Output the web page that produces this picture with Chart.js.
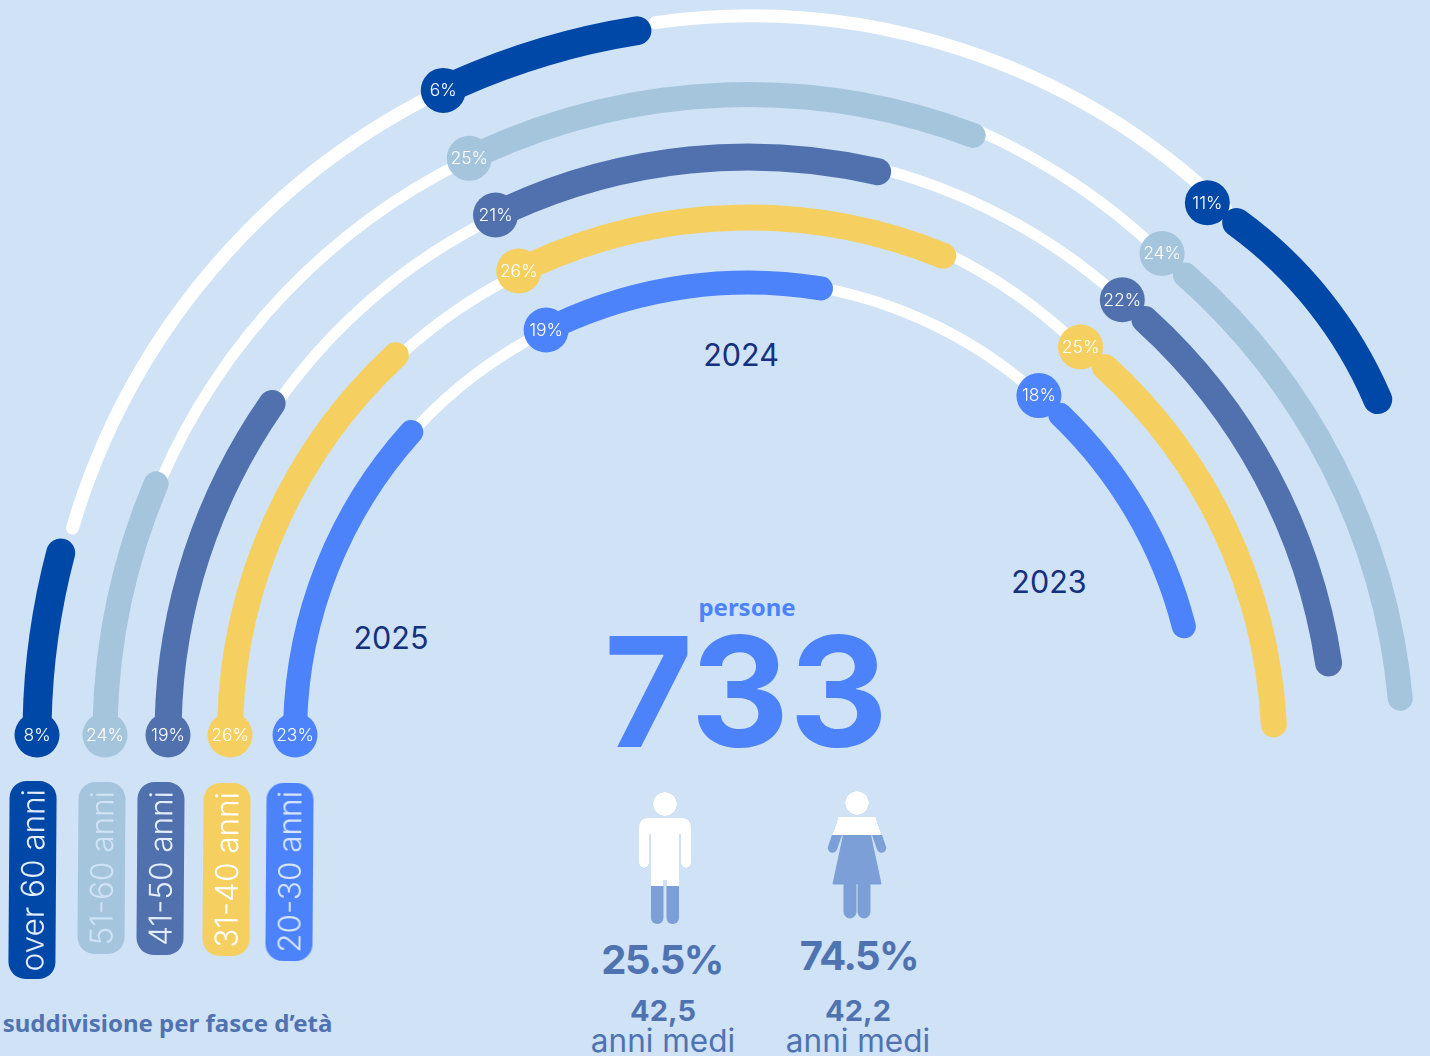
<!DOCTYPE html>
<html lang="it">

<head>
  <meta charset="UTF-8">
  <title>Suddivisione per fasce d'età</title>
  <script src="https://cdn.jsdelivr.net/npm/chart.js"></script>
  <style>
    html,
    body {
      margin: 0;
      padding: 0;
      background: #cfe2f6;
    }

    #page {
      position: relative;
      width: 1430px;
      height: 1056px;
      overflow: hidden;
      background: #cfe2f6;
      font-family: Inter, sans-serif;
    }

    #page canvas {
      position: absolute;
      left: 0;
      top: 0;
    }

    .t {
      position: absolute;
      transform: translate(-50%, -50%);
      line-height: 1;
      white-space: nowrap;
      color: #4f73b0;
    }

    .anno {
      font-size: 30.5px;
      color: #14307f;
    }

    .noto {
      font-family: "Noto Sans", sans-serif;
      font-weight: 700;
    }

    .pct {
      font-size: 40px;
      font-weight: 700;
      letter-spacing: -1.5px;
    }

    .eta {
      font-size: 29px;
      font-weight: 700;
    }

    .medi {
      font-size: 31.5px;
    }

    .pill {
      position: absolute;
      width: 47px;
      border-radius: 17px;
      display: flex;
      align-items: center;
      justify-content: center;
      box-sizing: border-box;
      transform: rotate(0.4deg);
    }

    .pill span {
      writing-mode: vertical-rl;
      transform: rotate(180deg);
      font-size: 31.5px;
      font-weight: 300;
      line-height: 1;
      white-space: nowrap;
    }

    #figure {
      position: absolute;
      left: 0;
      top: 0;
    }
  </style>
</head>

<body>
  <div id="page">
    <div class="t anno" style="left:391px;top:638px">2025</div>
    <div class="t anno" style="left:741px;top:355px">2024</div>
    <div class="t anno" style="left:1049px;top:582px">2023</div>

    <div class="t noto" style="left:747px;top:607px;font-size:24px;color:#4c82fa">persone</div>
    <div class="t" style="left:746px;top:691px;font-size:153px;font-weight:700;color:#4c82fa">733</div>

    <svg id="figure" width="1430" height="1056">
      <defs>
        <clipPath id="maschioTop"><rect x="620" y="780" width="90" height="106" /></clipPath>
        <clipPath id="femminaTop"><rect x="810" y="780" width="90" height="55" /></clipPath>
        <g id="maschio">
          <circle cx="665" cy="804" r="12" />
          <rect x="639" y="818" width="52" height="16" rx="8" />
          <rect x="639" y="824" width="10" height="44" rx="5" />
          <rect x="681" y="824" width="10" height="44" rx="5" />
          <rect x="651" y="820" width="28" height="60" />
          <rect x="651" y="865" width="12.5" height="59" rx="6" />
          <rect x="666.5" y="865" width="12.5" height="59" rx="6" />
        </g>
        <g id="femmina">
          <circle cx="857" cy="803" r="11.5" />
          <path d="M839 817 H875 L881 835 H833 Z" />
          <path d="M843.5 835 H870.5 L881 884 H833 Z" />
          <rect x="844" y="880" width="12" height="38" rx="6" />
          <rect x="858" y="880" width="12" height="38" rx="6" />
          <path d="M837 835 L832.5 848" stroke-width="9.5" stroke-linecap="round" style="stroke:inherit" />
          <path d="M877 835 L881.5 848" stroke-width="9.5" stroke-linecap="round" style="stroke:inherit" />
        </g>
      </defs>
      <use href="#maschio" fill="#7b9fd6" />
      <use href="#maschio" fill="#ffffff" clip-path="url(#maschioTop)" />
      <use href="#femmina" fill="#7b9fd6" stroke="#7b9fd6" />
      <use href="#femmina" fill="#ffffff" stroke="#ffffff" clip-path="url(#femminaTop)" />
    </svg>

    <div class="t pct" style="left:662px;top:960px">25.5%</div>
    <div class="t pct" style="left:859px;top:956px">74.5%</div>
    <div class="t eta" style="left:663px;top:1010px">42,5</div>
    <div class="t eta" style="left:858px;top:1010px">42,2</div>
    <div class="t medi" style="left:663px;top:1041px">anni medi</div>
    <div class="t medi" style="left:858px;top:1041px">anni medi</div>
    <div class="t noto" style="left:167.5px;top:1023px;font-size:24px">suddivisione per fasce d’età</div>
  </div>

  <script>
    // fasce d'eta, dall'anello esterno a quello interno
    const fasce = ['over 60 anni', '51-60 anni', '41-50 anni', '31-40 anni', '20-30 anni'];
    const quota2025 = [8, 24, 19, 26, 23];
    const quota2024 = [6, 25, 21, 26, 19];
    const quota2023 = [11, 24, 22, 25, 18];

    // gradi, partendo da sinistra in senso orario
    const fine2025 = [16, 24.1, 36.2, 48.6, 43.5];
    const inizio2024 = [64.7, 64.2, 64.1, 63.7, 63.5];
    const fine2024 = [82.2, 111.7, 104.3, 113.6, 100.8];
    const inizio2023 = [124.1, 130.4, 130.9, 130.9, 132.3];
    const fine2023 = [158.8, 175.8, 172.8, 178.5, 167.1];
    const bolla2023 = [130.8, 130.7, 130.7, 130.6, 130.6];

    const biancoDa1 = [15.9, 23, 34.5, 47.5, 42];
    const biancoA1 = [64, 64.2, 64.1, 63.7, 63.5];
    const biancoDa2 = [81.5, 113.5, 104, 115.5, 100];
    const biancoA2 = [134.7, 133.9, 132.2, 134.2, 132];

    // stili e geometria
    const colori = ['#0048a8', '#a5c5dd', '#5071ae', '#f5d060', '#4c82fa'];
    const coloriTesto = ['#e4eefb', '#cfe2f6', '#e4eefb', '#ffffff', '#d6e5fb'];
    const centro = { x: 748, y: 735 };
    const raggi2025 = [711, 643, 580, 518, 453];
    const raggi2024 = [713, 640.5, 578, 517.5, 452.5];
    const raggiBolla2023 = [703, 635, 574, 511, 447];
    const spessori = [29, 25, 27, 26, 24];
    const spessoriBianco = [13, 11, 11, 11, 11];
    const centri2023 = [
      { x: 986, y: 567, r: 426 },
      { x: 758, y: 758, r: 645 },
      { x: 755, y: 749, r: 580 },
      { x: 755, y: 751, r: 519.5 },
      { x: 750, y: 738, r: 448 }
    ];
    const centriBianco1 = [
      { x: 754, y: 729, r: 710.5 },
      { x: 748, y: 735, r: 640 },
      { x: 748, y: 735, r: 576 },
      { x: 748, y: 735, r: 515 },
      { x: 748, y: 735, r: 452 }
    ];
    const centriBianco2 = [
      { x: 750, y: 699, r: 683 },
      { x: 717, y: 717, r: 642 },
      { x: 734, y: 728, r: 578 },
      { x: 720, y: 718, r: 517 },
      { x: 738, y: 730, r: 450 }
    ];
    const pillole = [
      { left: 8.5, top: 781, h: 198 },
      { left: 78, top: 782, h: 172 },
      { left: 137, top: 782, h: 173 },
      { left: 203, top: 783, h: 173 },
      { left: 266, top: 783, h: 178 }
    ];

    const vuoto = 'rgba(0,0,0,0)';

    // bolla con la percentuale, all'inizio o alla fine dell'arco visibile
    const bollePlugin = {
      id: 'bolle',
      afterDatasetsDraw(chart) {
        const b = chart.data.datasets[0].bolla;
        if (!b) return;
        const el = chart.getDatasetMeta(0).data[1];
        const { x, y, startAngle, endAngle, innerRadius, outerRadius } = el.getProps(['x', 'y', 'startAngle', 'endAngle', 'innerRadius', 'outerRadius'], true);
        const ang = b.dove === 'fine' ? endAngle : startAngle;
        const r = (innerRadius + outerRadius) / 2;
        const px = x + Math.cos(ang) * r;
        const py = y + Math.sin(ang) * r;
        const ctx = chart.ctx;
        ctx.save();
        ctx.fillStyle = b.colore;
        ctx.beginPath();
        ctx.arc(px, py, 22.5, 0, Math.PI * 2);
        ctx.fill();
        ctx.fillStyle = '#ffffff';
        ctx.font = '350 17.5px Inter';
        ctx.textAlign = 'center';
        ctx.textBaseline = 'middle';
        ctx.fillText(b.testo, px, py + 0.5);
        ctx.restore();
      }
    };

    // un canvas per ogni arco, cosi ognuno ha il suo centro e raggio
    function creaArco(c, raggio, spessore, da, a, colore, bolla) {
      const canvas = document.createElement('canvas');
      canvas.width = 1430;
      canvas.height = 1056;
      document.getElementById('page').appendChild(canvas);
      return new Chart(canvas.getContext('2d'), {
        type: 'doughnut',
        data: {
          labels: ['prima', 'arco', 'dopo'],
          datasets: [{
            data: [da, a - da, 360 - a],
            backgroundColor: [vuoto, colore, vuoto],
            borderWidth: 0,
            borderRadius: 20,
            clip: false,
            bolla: bolla
          }]
        },
        options: {
          responsive: false,
          animation: false,
          rotation: -90,
          circumference: 360,
          radius: raggio + spessore / 2,
          cutout: ((raggio - spessore / 2) / (raggio + spessore / 2) * 100) + '%',
          layout: {
            padding: {
              left: Math.max(0, 2 * (c.x - 715)),
              right: Math.max(0, 2 * (715 - c.x)),
              top: Math.max(0, 2 * (c.y - 528)),
              bottom: Math.max(0, 2 * (528 - c.y))
            }
          },
          plugins: { legend: { display: false }, tooltip: { enabled: false } }
        },
        plugins: [bollePlugin]
      });
    }

    fasce.forEach((fascia, i) => {
      const b1 = centriBianco1[i];
      const b2 = centriBianco2[i];
      const c23 = centri2023[i];

      creaArco(b1, b1.r, spessoriBianco[i], biancoDa1[i], biancoA1[i], '#ffffff');
      creaArco(b2, b2.r, spessoriBianco[i], biancoDa2[i], biancoA2[i], '#ffffff');
      creaArco(c23, c23.r, spessori[i], inizio2023[i], fine2023[i], colori[i]);
      creaArco(centro, raggiBolla2023[i], 2, 1, bolla2023[i], vuoto,
        { dove: 'fine', colore: colori[i], testo: quota2023[i] + '%' });
      creaArco(centro, raggi2025[i], spessori[i], 0.001, fine2025[i], colori[i],
        { dove: 'inizio', colore: colori[i], testo: quota2025[i] + '%' });
      creaArco(centro, raggi2024[i], spessori[i], inizio2024[i], fine2024[i], colori[i],
        { dove: 'inizio', colore: colori[i], testo: quota2024[i] + '%' });

      // etichetta della fascia
      const p = document.createElement('div');
      p.className = 'pill';
      p.style.left = pillole[i].left + 'px';
      p.style.top = pillole[i].top + 'px';
      p.style.height = pillole[i].h + 'px';
      p.style.background = colori[i];
      p.style.color = coloriTesto[i];
      p.innerHTML = '<span>' + fascia + '</span>';
      document.getElementById('page').appendChild(p);
    });
  </script>
</body>

</html>
